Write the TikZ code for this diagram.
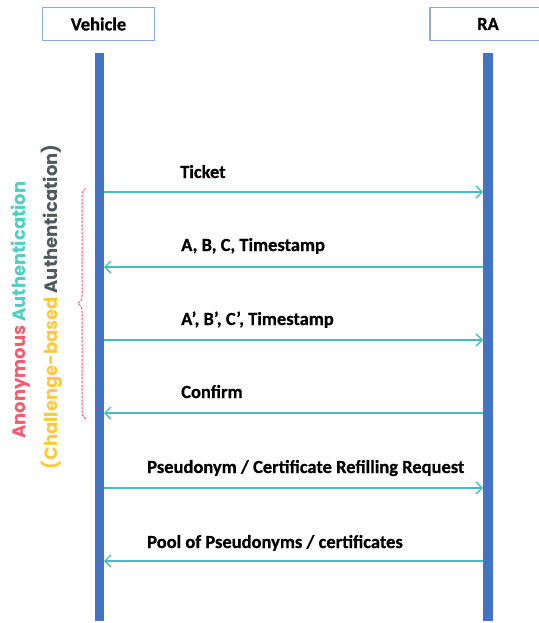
\documentclass[tikz,border=0pt]{standalone}
\usepackage{fontspec}
\setmainfont{Carlito}[BoldFeatures={FakeBold=0.6}]
\newfontfamily\sidefont{Poppins}
\usetikzlibrary{arrows.meta,decorations.pathreplacing}
\definecolor{lifeblue}{HTML}{4472C4}
\definecolor{boxedge}{HTML}{8EAADB}
\definecolor{msgteal}{HTML}{45BDBF}
\definecolor{anonred}{HTML}{F45B6E}
\definecolor{authteal}{HTML}{4FCFC2}
\definecolor{chalyellow}{HTML}{FFC83D}
\definecolor{authgray}{HTML}{4F5A60}
\definecolor{bracered}{HTML}{F05070}
\tikzset{
  actorbox/.style={draw=boxedge, line width=1.1pt, fill=white, minimum height=33pt,
    font=\fontsize{18.5}{20}\selectfont\bfseries, inner sep=0pt},
  lifeline/.style={fill=lifeblue, draw=none, inner sep=0pt, minimum height=568pt, anchor=north},
  msg/.style={draw=msgteal, line width=1.4pt, -{Straight Barb[length=6pt,width=12pt,line width=1.4pt]}},
  msglabel/.style={anchor=base west, inner sep=0pt, font=\fontsize{18.5}{20}\selectfont\bfseries},
  sidelabel/.style={rotate=90, inner sep=0pt, font=\sidefont\fontsize{18}{20}\selectfont\bfseries},
}
\begin{document}
\begin{tikzpicture}[x=1pt,y=-1pt]
\useasboundingbox (0,0) rectangle (538,623);

% actors
\node[actorbox, minimum width=112pt] (veh) at (98.5,24) {Vehicle};
\node[actorbox, minimum width=116pt] (ra) at (488,24) {RA};

% lifelines
\node[lifeline, minimum width=9pt] (vl) at (99.5,53) {};
\node[lifeline, minimum width=10pt] (rl) at (488,53) {};

% message end points on the lifelines
\foreach \n/\y in {1/192,2/267,3/340,4/413,5/488,6/561}{
  \coordinate (v\n) at (104,\y);
  \coordinate (r\n) at (483,\y);
}

% messages
\draw[msg] (v1) -- (r1);
\draw[msg] (r2) -- (v2);
\draw[msg] (v3) -- (r3);
\draw[msg] (r4) -- (v4);
\draw[msg] (v5) -- (r5);
\draw[msg] (r6) -- (v6);

\node[msglabel] (l1) at (180,178) {Ticket};
\node[msglabel] (l2) at (181,251) {A, B, C, Timestamp};
\node[msglabel] (l3) at (181,325) {A’, B’, C’, Timestamp};
\node[msglabel] (l4) at (181,398) {Confirm};
\node[msglabel] (l5) at (147,473) {Pseudonym / Certificate Refilling Request};
\node[msglabel] (l6) at (147,548) {Pool of Pseudonyms / certificates};

% authentication phase brace
\coordinate (bb) at (86,419);
\coordinate (bt) at (86,188);
\draw[bracered, dash pattern=on 2.5pt off 1.2pt, line width=1pt,
  decorate, decoration={brace, amplitude=8pt, aspect=0.5}] (bb) -- (bt);

% phase labels
\node[sidelabel] (anon) at (21,310)
  {\textcolor{anonred}{Anonymous} \textcolor{authteal}{Authentication}};
\node[sidelabel] (chal) at (52,307)
  {\textcolor{chalyellow}{(Challenge-based} \textcolor{authgray}{Authentication)}};
\end{tikzpicture}
\end{document}
